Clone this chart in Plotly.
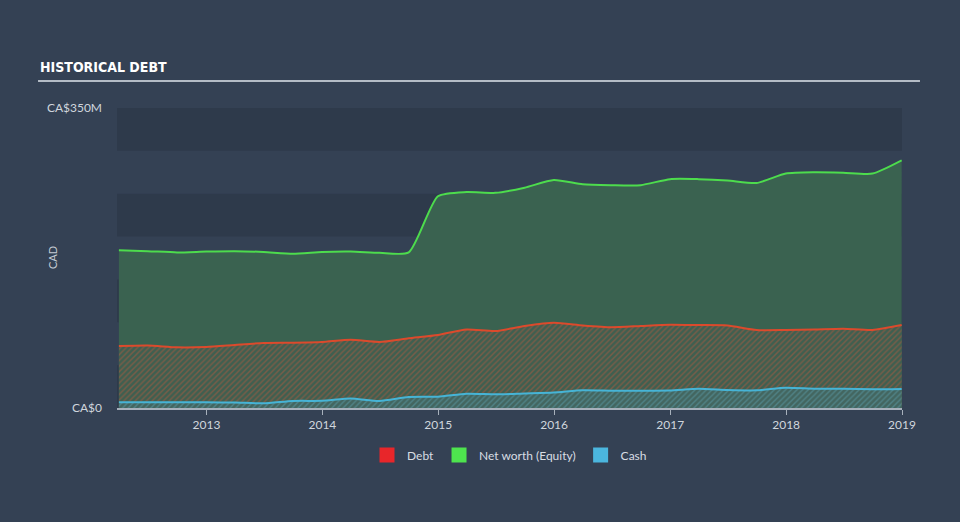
import plotly.graph_objects as go

dates = ["2012-03-31", "2012-06-30", "2012-09-30", "2012-12-31",
         "2013-03-31", "2013-06-30", "2013-09-30", "2013-12-31",
         "2014-03-31", "2014-06-30", "2014-09-30", "2014-12-31",
         "2015-03-31", "2015-06-30", "2015-09-30", "2015-12-31",
         "2016-03-31", "2016-06-30", "2016-09-30", "2016-12-31",
         "2017-03-31", "2017-06-30", "2017-09-30", "2017-12-31",
         "2018-03-31", "2018-06-30", "2018-09-30", "2018-12-31"]

equity = [184, 183, 181.5, 182.5, 183, 182, 180, 182, 182.5, 181, 181.5, 247,
          252, 251, 257, 266, 261, 260, 260, 267, 267, 265.5, 262.5, 273.5,
          275, 274.5, 273.5, 289]

debt = [72.3, 72.9, 70.8, 71.2, 73.5, 75.8, 76.2, 77, 79.6, 77, 81.3, 85.2,
        91.6, 89.8, 95.7, 99.5, 96.3, 94.2, 95.7, 97.2, 96.8, 96.3, 91, 91,
        91.6, 92.5, 91, 96.8]

cash = [6.6, 6.6, 6.6, 6.6, 6.4, 5.5, 8.2, 8.4, 11, 8.2, 12.8, 13.2,
        16.6, 16, 17, 18, 20.6, 20.2, 20.2, 20.4, 22.4, 21, 20.6, 23.6,
        22.5, 22.5, 21.8, 22.2]

year_ticks = ["2013-01-01", "2014-01-01", "2015-01-01", "2016-01-01",
              "2017-01-01", "2018-01-01", "2019-01-01"]
year_labels = ["2013", "2014", "2015", "2016", "2017", "2018", "2019"]

y_ticks = [0, 350]
y_labels = ["CA$0", "CA$350M"]

BG = "#344154"
BAND = "#2e3a4b"
FONT = "Lato, Open Sans, sans-serif"

fig = go.Figure()

fig.add_trace(go.Scatter(
    x=dates, y=equity, mode="lines", fill="tozeroy",
    line=dict(color="#4ddc4d", width=2, shape="spline", smoothing=0.6),
    fillcolor="#3a6250", showlegend=False, hoverinfo="skip"))

fig.add_trace(go.Scatter(
    x=dates, y=debt, mode="lines", fill="tozeroy",
    line=dict(color="#dc4a2c", width=2, shape="spline", smoothing=0.6),
    fillcolor="#44604f",
    fillpattern=dict(shape="/", fgcolor="#b85a3e", bgcolor="#3f5f50",
                     size=4, solidity=0.35),
    showlegend=False, hoverinfo="skip"))

fig.add_trace(go.Scatter(
    x=dates, y=cash, mode="lines", fill="tozeroy",
    line=dict(color="#46b4d6", width=2, shape="spline", smoothing=0.6),
    fillcolor="#4a6f6c",
    fillpattern=dict(shape="/", fgcolor="#5d9fae", bgcolor="#436660",
                     size=4, solidity=0.35),
    showlegend=False, hoverinfo="skip"))

for name, col in [("Debt", "#e8262a"), ("Net worth (Equity)", "#4ee44e"), ("Cash", "#4bb6de")]:
    fig.add_trace(go.Scatter(
        x=[None], y=[None], mode="markers", name=name,
        marker=dict(symbol="square", size=15, color=col)))

shapes = []
for lo, hi in [(300, 350), (200, 250), (100, 150), (0, 50)]:
    shapes.append(dict(type="rect", xref="paper", yref="y", x0=0, x1=1,
                       y0=lo, y1=hi, fillcolor=BAND, line=dict(width=0),
                       layer="below"))
shapes.append(dict(type="line", xref="paper", yref="paper",
                   x0=-0.1006, x1=1.0229, y0=1.09, y1=1.09,
                   line=dict(color="#b4bcc6", width=2)))

fig.update_layout(
    width=960, height=522,
    paper_bgcolor=BG, plot_bgcolor=BG,
    margin=dict(l=117, r=58, t=108, b=114),
    font=dict(family=FONT, color="#d0d6dd", size=12),
    shapes=shapes,
    showlegend=True,
    legend=dict(orientation="h", x=0.5, xanchor="center", y=-0.108, yanchor="top",
                font=dict(size=12, color="#d8dde3"), itemwidth=30,
                bgcolor="rgba(0,0,0,0)"),
    xaxis=dict(type="date", range=["2012-03-25", "2019-01-01"],
               tickvals=year_ticks, ticktext=year_labels,
               showgrid=False, zeroline=False,
               showline=True, linecolor="#a7b0bb", linewidth=2,
               ticks="outside", ticklen=5, tickcolor="#a7b0bb", tickwidth=1,
               tickfont=dict(size=12, color="#d0d6dd")),
    yaxis=dict(range=[0, 350], tickvals=y_ticks, ticktext=y_labels,
               showgrid=False, zeroline=False, showline=False,
               ticks="", ticklabelstandoff=14,
               tickfont=dict(size=12, color="#d0d6dd")),
    annotations=[
        dict(text="<b>HISTORICAL DEBT</b>", xref="paper", yref="paper",
             x=-0.1006, y=1.103, xanchor="left", yanchor="bottom",
             showarrow=False,
             font=dict(family="DejaVu Sans Condensed, Liberation Sans Narrow, sans-serif",
                       size=14, color="#ffffff")),
        dict(text="CAD", xref="paper", yref="paper", x=-0.0828, y=0.5,
             xanchor="center", yanchor="middle", textangle=-90, showarrow=False,
             font=dict(size=11, color="#c4cbd3")),
    ],
)

fig.write_html("out.html")
